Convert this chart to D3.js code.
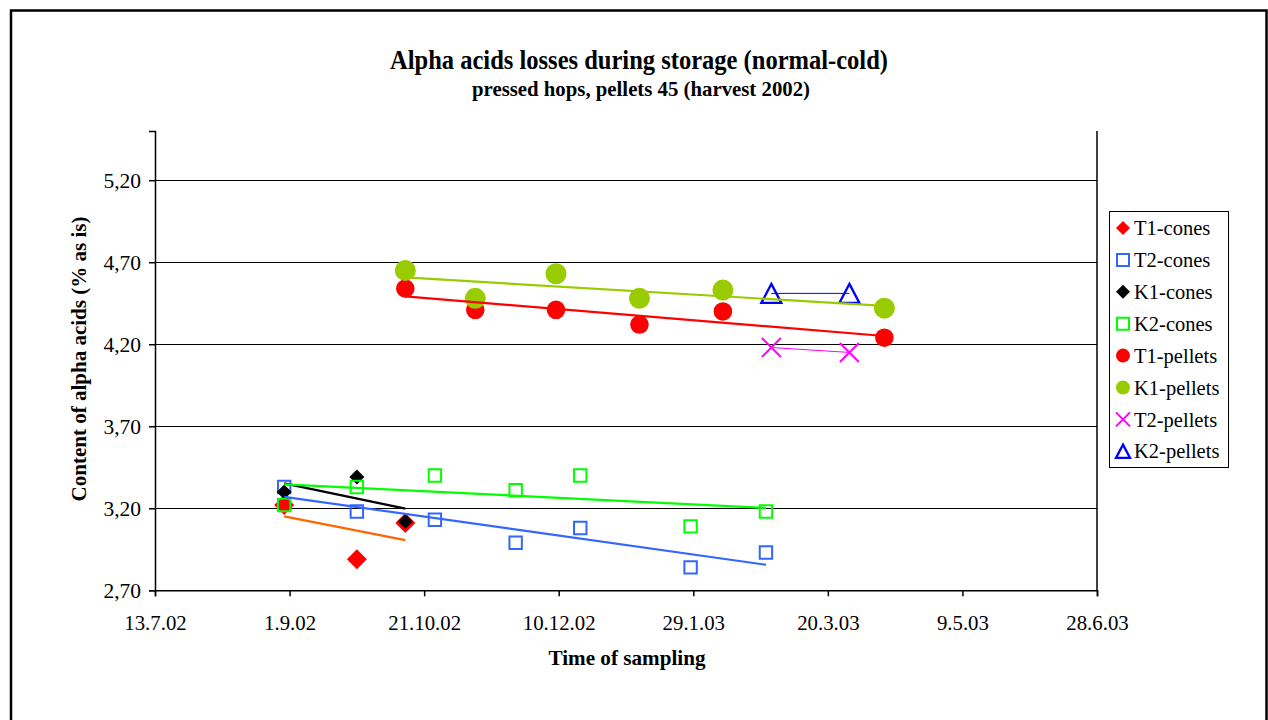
<!DOCTYPE html>
<html>
<head>
<meta charset="utf-8">
<script src="https://cdn.jsdelivr.net/npm/d3@7"></script>
<style>
  html, body { margin: 0; padding: 0; background: #fff; }
  svg { display: block; }
  text { font-family: "Liberation Serif", "Times New Roman", serif; fill: #000; }
</style>
</head>
<body>
<svg id="chart" width="1268" height="720"></svg>
<script>
// ---------------- DATA ----------------
const seriesNames = ["T1-cones", "T2-cones", "K1-cones", "K2-cones", "T1-pellets", "K1-pellets", "T2-pellets", "K2-pellets"];

const t1ConesDates  = ["2002-08-30", "2002-09-26", "2002-10-14"];
const t1ConesValues = [3.22, 2.89, 3.11];

const t2ConesDates  = ["2002-08-30", "2002-09-26", "2002-10-25", "2002-11-24", "2002-12-18", "2003-01-28", "2003-02-25"];
const t2ConesValues = [3.33, 3.18, 3.13, 2.99, 3.08, 2.84, 2.93];

const k1ConesDates  = ["2002-08-30", "2002-09-26", "2002-10-14"];
const k1ConesValues = [3.30, 3.39, 3.12];

const k2ConesDates  = ["2002-08-30", "2002-09-26", "2002-10-25", "2002-11-24", "2002-12-18", "2003-01-28", "2003-02-25"];
const k2ConesValues = [3.22, 3.33, 3.40, 3.31, 3.40, 3.09, 3.18];

const t1PelletsDates  = ["2002-10-14", "2002-11-09", "2002-12-09", "2003-01-09", "2003-02-09", "2003-04-10"];
const t1PelletsValues = [4.54, 4.41, 4.41, 4.32, 4.40, 4.24];

const k1PelletsDates  = ["2002-10-14", "2002-11-09", "2002-12-09", "2003-01-09", "2003-02-09", "2003-04-10"];
const k1PelletsValues = [4.65, 4.48, 4.63, 4.48, 4.53, 4.42];

const t2PelletsDates  = ["2003-02-27", "2003-03-28"];
const t2PelletsValues = [4.18, 4.15];

const k2PelletsDates  = ["2003-02-27", "2003-03-28"];
const k2PelletsValues = [4.51, 4.51];

const xTickDates  = ["2002-07-13", "2002-09-01", "2002-10-21", "2002-12-10", "2003-01-29", "2003-03-20", "2003-05-09", "2003-06-28"];
const xTickLabels = ["13.7.02", "1.9.02", "21.10.02", "10.12.02", "29.1.03", "20.3.03", "9.5.03", "28.6.03"];
const yTickValues = [2.7, 3.2, 3.7, 4.2, 4.7, 5.2];
const yTickLabels = ["2,70", "3,20", "3,70", "4,20", "4,70", "5,20"];

const titleText = "Alpha acids losses during storage (normal-cold)";
const subtitleText = "pressed hops, pellets 45 (harvest 2002)";
const xAxisTitle = "Time of sampling";
const yAxisTitle = "Content of alpha acids (% as is)";

// ---------------- STYLE TABLE ----------------
const parse = d3.utcParse("%Y-%m-%d");
const mk = (dates, vals) => dates.map((d, i) => ({ date: parse(d), value: vals[i] }));

const series = [
  { name: seriesNames[0], data: mk(t1ConesDates, t1ConesValues),   shape: "diamond",  r: 10,  fill: "#FF0000", stroke: "none", sw: 0, trend: "#FF6600", tw: 2.2, lr: 7 },
  { name: seriesNames[1], data: mk(t2ConesDates, t2ConesValues),   shape: "square",   r: 6.2, fill: "none", stroke: "#3366FF", sw: 2, trend: "#3366FF", tw: 2.2, lr: 6 },
  { name: seriesNames[2], data: mk(k1ConesDates, k1ConesValues),   shape: "diamond",  r: 7.5, fill: "#000000", stroke: "none", sw: 0, trend: "#000000", tw: 2.2, lr: 7 },
  { name: seriesNames[3], data: mk(k2ConesDates, k2ConesValues),   shape: "square",   r: 6.2, fill: "none", stroke: "#00FF00", sw: 2, trend: "#00FF00", tw: 2.2, lr: 6 },
  { name: seriesNames[4], data: mk(t1PelletsDates, t1PelletsValues), shape: "circle", r: 9.3, fill: "#FF0000", stroke: "none", sw: 0, trend: "#FF0000", tw: 2.2, lr: 7 },
  { name: seriesNames[5], data: mk(k1PelletsDates, k1PelletsValues), shape: "circle", r: 10.5, fill: "#99CC00", stroke: "none", sw: 0, trend: "#99CC00", tw: 2.2, lr: 7 },
  { name: seriesNames[6], data: mk(t2PelletsDates, t2PelletsValues), shape: "x",      r: 9.5, fill: "none", stroke: "#FF00FF", sw: 2, trend: "#FF00FF", tw: 1, lr: 7 },
  { name: seriesNames[7], data: mk(k2PelletsDates, k2PelletsValues), shape: "triangle", r: 10, fill: "none", stroke: "#0000FF", sw: 2.3, trend: "#0000FF", tw: 1, lr: 7 }
];

function markerPath(shape, r) {
  const p = d3.path();
  if (shape === "diamond") {
    p.moveTo(0, -r); p.lineTo(r, 0); p.lineTo(0, r); p.lineTo(-r, 0); p.closePath();
  } else if (shape === "square") {
    p.rect(-r, -r, 2 * r, 2 * r);
  } else if (shape === "circle") {
    p.arc(0, 0, r, 0, 2 * Math.PI);
  } else if (shape === "triangle") {
    const h = r * 0.95;
    p.moveTo(0, -h); p.lineTo(r, h); p.lineTo(-r, h); p.closePath();
  } else if (shape === "x") {
    p.moveTo(-r, -r); p.lineTo(r, r); p.moveTo(r, -r); p.lineTo(-r, r);
  }
  return p.toString();
}

// ---------------- LAYOUT ----------------
const svg = d3.select("#chart");
const plot = { left: 155, right: 1097, top: 131, bottom: 590.3 };

const x = d3.scaleUtc()
  .domain([parse(xTickDates[0]), parse(xTickDates[xTickDates.length - 1])])
  .range([plot.left, plot.right]);
const y = d3.scaleLinear().domain([2.7, 5.5]).range([plot.bottom, plot.top]);

// outer frame
svg.append("rect").attr("x", 11).attr("y", 10.5).attr("width", 1255.5).attr("height", 730)
  .attr("fill", "none").attr("stroke", "#000").attr("stroke-width", 2.5);

// titles (slightly condensed glyphs, like the reference)
svg.append("text").attr("x", 639).attr("y", 69).attr("text-anchor", "middle")
  .attr("font-size", 26.5).attr("font-weight", "bold")
  .attr("textLength", 498).attr("lengthAdjust", "spacingAndGlyphs").text(titleText);
svg.append("text").attr("x", 641).attr("y", 96).attr("text-anchor", "middle")
  .attr("font-size", 22).attr("font-weight", "bold")
  .attr("textLength", 338).attr("lengthAdjust", "spacingAndGlyphs").text(subtitleText);

// gridlines
svg.append("g").selectAll("line").data(yTickValues.slice(1)).join("line")
  .attr("x1", plot.left).attr("x2", plot.right)
  .attr("y1", d => Math.round(y(d)) + 0.5).attr("y2", d => Math.round(y(d)) + 0.5)
  .attr("stroke", "#000").attr("stroke-width", 1.2);

// y axis
const yAxis = d3.axisLeft(y).tickValues(yTickValues).tickSize(6).tickPadding(8)
  .tickFormat((d, i) => yTickLabels[i]);
const gy = svg.append("g").attr("transform", `translate(${plot.left},0)`).call(yAxis);
gy.select(".domain").attr("stroke-width", 1.5);
gy.selectAll(".tick line").attr("stroke-width", 1.5);
gy.selectAll(".tick text").attr("font-size", 21.5).attr("font-family", "Liberation Serif");

// x axis
const xAxis = d3.axisBottom(x).tickValues(xTickDates.map(parse)).tickSize(6).tickPadding(19)
  .tickFormat((d, i) => xTickLabels[i]);
const gx = svg.append("g").attr("transform", `translate(0,${plot.bottom})`).call(xAxis);
gx.select(".domain").attr("stroke-width", 1.5);
gx.selectAll(".tick line").attr("stroke-width", 1.5);
gx.selectAll(".tick text").attr("font-size", 20.8).attr("font-family", "Liberation Serif");

// right border line of plot area
svg.append("line").attr("x1", plot.right).attr("x2", plot.right)
  .attr("y1", plot.top).attr("y2", plot.bottom).attr("stroke", "#000").attr("stroke-width", 1.5);

// axis titles
svg.append("text").attr("x", 627).attr("y", 665).attr("text-anchor", "middle")
  .attr("font-size", 22).attr("font-weight", "bold")
  .attr("textLength", 157).attr("lengthAdjust", "spacingAndGlyphs").text(xAxisTitle);
svg.append("text").attr("transform", "translate(86,359) rotate(-90)").attr("text-anchor", "middle")
  .attr("font-size", 22).attr("font-weight", "bold")
  .attr("textLength", 285).attr("lengthAdjust", "spacingAndGlyphs").text(yAxisTitle);

// markers
const gm = svg.append("g");
series.forEach(s => {
  gm.append("g").selectAll("path").data(s.data).join("path")
    .attr("transform", d => `translate(${x(d.date)},${y(d.value)})`)
    .attr("d", markerPath(s.shape, s.r))
    .attr("fill", s.fill).attr("stroke", s.stroke).attr("stroke-width", s.sw);
});

// linear trend lines (least squares on the data)
const gt = svg.append("g");
series.forEach(s => {
  const xs = s.data.map(d => d.date.getTime());
  const ys = s.data.map(d => d.value);
  const mx = d3.mean(xs), my = d3.mean(ys);
  let sxy = 0, sxx = 0;
  xs.forEach((v, i) => { sxy += (v - mx) * (ys[i] - my); sxx += (v - mx) * (v - mx); });
  const b = sxy / sxx;
  const x0 = d3.min(xs), x1 = d3.max(xs);
  gt.append("line")
    .attr("x1", x(new Date(x0))).attr("y1", y(my + b * (x0 - mx)))
    .attr("x2", x(new Date(x1))).attr("y2", y(my + b * (x1 - mx)))
    .attr("stroke", s.trend).attr("stroke-width", s.tw);
});

// legend
const lg = svg.append("g");
lg.append("rect").attr("x", 1109.5).attr("y", 211.5).attr("width", 119).attr("height", 256)
  .attr("fill", "#fff").attr("stroke", "#000").attr("stroke-width", 1);
series.forEach((s, i) => {
  const cy = 228 + i * 31.9;
  lg.append("path").attr("transform", `translate(1123,${cy})`)
    .attr("d", markerPath(s.shape, s.lr))
    .attr("fill", s.fill).attr("stroke", s.stroke).attr("stroke-width", s.sw);
  lg.append("text").attr("x", 1134).attr("y", cy).attr("dy", "0.35em")
    .attr("font-size", 20.5).text(s.name);
});
</script>
</body>
</html>
